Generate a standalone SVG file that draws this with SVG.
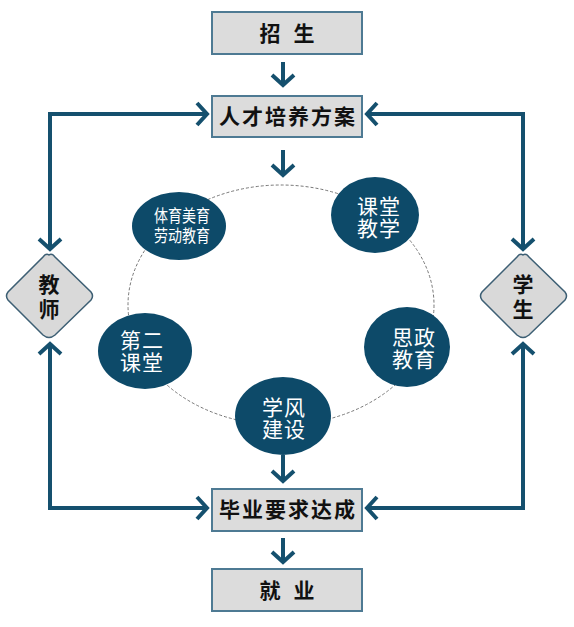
<svg xmlns="http://www.w3.org/2000/svg" width="574" height="627" viewBox="0 0 574 627">
<defs>
<marker id="chev" markerUnits="userSpaceOnUse" markerWidth="30" markerHeight="30" viewBox="-15 -15 30 30" refX="0" refY="0" orient="auto">
<path d="M-11,-11 L-1,0 L-11,11" fill="none" stroke="#15506e" stroke-width="4" stroke-linejoin="miter"/>
</marker>
<style>
.box{fill:#dcdcdc;stroke:#4e7a93;stroke-width:2}
.dia{fill:#d9d9d9;stroke:#3d5f74;stroke-width:1.5}
.node{fill:#0d4a69}
.bt{font-family:"Noto Sans CJK SC","Noto Sans",sans-serif;font-size:21px;font-weight:bold;fill:#111;text-anchor:middle}
.ct{font-family:"Noto Sans CJK SC","Noto Sans",sans-serif;font-size:21px;fill:#fff;text-anchor:middle}
.cs{font-family:"Noto Sans CJK SC","Noto Sans",sans-serif;font-size:17px;fill:#fff;text-anchor:middle}
.ln{fill:none;stroke:#15506e;stroke-width:4;marker-end:url(#chev)}
</style>
</defs>
<ellipse cx="281" cy="305" rx="153" ry="120" fill="none" stroke="#777" stroke-width="1" stroke-dasharray="3,2"/>
<g id="connectors">
<path class="ln" d="M283,62 V86"/>
<path class="ln" d="M283,150 V176"/>
<path class="ln" d="M283,455 V482"/>
<path class="ln" d="M283,538 V563"/>
<path class="ln" d="M50,180 V114 H208"/>
<path class="ln" d="M50,114 V250"/>
<path class="ln" d="M50,440 V508 H208"/>
<path class="ln" d="M50,508 V343"/>
<path class="ln" d="M523,180 V114 H366"/>
<path class="ln" d="M523,114 V250"/>
<path class="ln" d="M523,440 V508 H366"/>
<path class="ln" d="M523,508 V343"/>
</g>
<g id="zhaosheng"><rect class="box" x="212" y="12" width="150" height="42"/><text class="bt" y="41"><tspan x="270">招</tspan><tspan x="304">生</tspan></text></g>
<g id="rencai"><rect class="box" x="212" y="96" width="150" height="41"/><text class="bt" x="287" y="124" textLength="136" lengthAdjust="spacing">人才培养方案</text></g>
<g id="biye"><rect class="box" x="212" y="489" width="150" height="42"/><text class="bt" x="287" y="517" textLength="136" lengthAdjust="spacing">毕业要求达成</text></g>
<g id="jiuye"><rect class="box" x="212" y="569" width="150" height="42"/><text class="bt" y="598"><tspan x="270">就</tspan><tspan x="304">业</tspan></text></g>
<g id="jiaoshi"><path class="dia" d="M49,255 Q52,253 55,257 L91,292 Q94,296 91,300 L55,335 Q49,340 43,335 L8,300 Q5,296 8,292 L43,257 Q46,253 49,255 Z"/><text class="bt" y="292"><tspan x="49">教</tspan><tspan x="49" dy="25">师</tspan></text></g>
<g id="xuesheng"><path class="dia" d="M523,255 Q526,253 529,257 L565,292 Q568,296 565,300 L529,335 Q523,340 517,335 L482,300 Q479,296 482,292 L517,257 Q520,253 523,255 Z"/><text class="bt" y="292"><tspan x="523">学</tspan><tspan x="523" dy="25">生</tspan></text></g>
<g id="tiyu"><ellipse class="node" cx="179" cy="226" rx="47" ry="34"/><text class="cs" x="182" y="222" textLength="56" lengthAdjust="spacingAndGlyphs">体育美育</text><text class="cs" x="182" y="242" textLength="56" lengthAdjust="spacingAndGlyphs">劳动教育</text></g>
<g id="ketang"><ellipse class="node" cx="375" cy="215" rx="44" ry="38"/><text class="ct" y="214" letter-spacing="1"><tspan x="379">课堂</tspan><tspan x="379" dy="22">教学</tspan></text></g>
<g id="sizheng"><ellipse class="node" cx="407" cy="347" rx="43" ry="40"/><text class="ct" y="345" letter-spacing="1"><tspan x="414">思政</tspan><tspan x="414" dy="22">教育</tspan></text></g>
<g id="xuefeng"><ellipse class="node" cx="283" cy="416" rx="48" ry="39"/><text class="ct" y="415" letter-spacing="1"><tspan x="284">学风</tspan><tspan x="284" dy="22">建设</tspan></text></g>
<g id="dier"><ellipse class="node" cx="145" cy="351" rx="47" ry="38"/><text class="ct" y="348" letter-spacing="1"><tspan x="142">第二</tspan><tspan x="142" dy="22">课堂</tspan></text></g>
</svg>
